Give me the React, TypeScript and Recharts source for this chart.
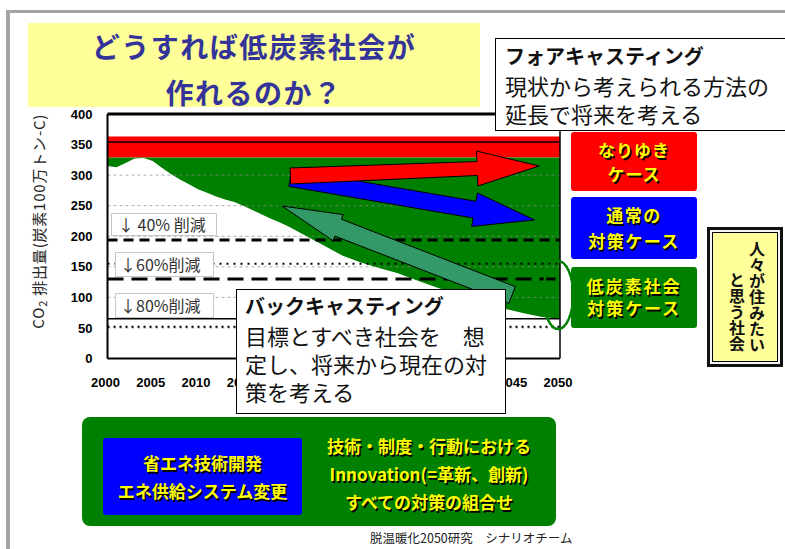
import React from 'react';
import { ComposedChart, Area, Line, XAxis, YAxis, ReferenceLine, ReferenceDot } from 'recharts';

// ---- data ----
const years = [2000, 2001, 2002, 2003, 2004, 2005, 2006, 2007, 2008, 2009, 2010, 2011, 2012, 2013, 2014, 2015, 2016, 2017, 2018, 2019, 2020, 2022, 2024, 2026, 2028, 2030, 2032, 2034, 2036, 2038, 2040, 2042, 2044, 2046, 2048, 2050];
const lowCarbonPath = [315, 313, 320, 327, 328, 323, 312, 302, 293, 285, 277, 271, 265, 260, 256, 250, 243, 236, 229, 223, 216, 200, 184, 168, 157, 148, 140, 129, 118, 108, 98, 89, 81, 74, 68, 65];
const greenTop = 329;
const bauBand = [329, 363];
const bauLevel = 354;
const reduction40 = 194;
const reduction60 = 155;
const reduction60b = 130;
const reduction80 = 65;
const reduction80b = 52;
const gridLevels = [50, 100, 150, 200, 250, 300];
const xTicks = [2000, 2005, 2010, 2015, 2020, 2025, 2030, 2035, 2040, 2045, 2050];
const yTicks = [0, 50, 100, 150, 200, 250, 300, 350, 400];
// arrows: [fromYear, fromValue, toYear, toValue]
const bauArrow = [2020.2, 298.6, 2047.7, 314.9];
const policyArrow = [2020.2, 295.3, 2047.2, 226.6];
const backcastArrow = [2044.7, 103.9, 2019.3, 249.5];
const targetMark = [2049.8, 104];

const table = years.map((y, i) => ({
  year: y,
  green: [lowCarbonPath[i], greenTop],
  red: [bauBand[0], bauBand[1]],
  bau: bauLevel,
}));

const JP = '"Noto Sans CJK JP", "Noto Sans", sans-serif';

function arrowShape(fill: string, tailW: number, shaftW: number, headW: number, headLen: number) {
  return (p: any) => {
    const { x1, y1, x2, y2 } = p;
    if ([x1, y1, x2, y2].some((v) => typeof v !== 'number' || isNaN(v))) return <g />;
    const dx = x2 - x1, dy = y2 - y1;
    const L = Math.hypot(dx, dy) || 1;
    const ux = dx / L, uy = dy / L;
    const nx = -uy, ny = ux;
    const bx = x2 - ux * headLen, by = y2 - uy * headLen;
    const pts = [
      [x1 + nx * tailW, y1 + ny * tailW],
      [bx + nx * shaftW, by + ny * shaftW],
      [bx + nx * headW, by + ny * headW],
      [x2, y2],
      [bx - nx * headW, by - ny * headW],
      [bx - nx * shaftW, by - ny * shaftW],
      [x1 - nx * tailW, y1 - ny * tailW],
    ];
    return <polygon points={pts.map((q) => q.join(',')).join(' ')} fill={fill} stroke="#000" strokeWidth={1} />;
  };
}

const yLabel = (props: any) => {
  const vb = props.viewBox || { x: 47.5, y: 114, width: 60, height: 244 };
  const cx = vb.x - 10;
  const cy = vb.y + vb.height / 2 - 15;
  return (
    <text x={cx} y={cy} transform={`rotate(-90, ${cx}, ${cy})`} textAnchor="middle" dominantBaseline="central" fontSize={15} letterSpacing={0.8} fill="#222" fontFamily={JP}>
      CO<tspan dy={4} fontSize={11}>2</tspan><tspan dy={-4}> 排出量(炭素100万トン-C)</tspan>
    </text>
  );
};

const shadow = '1.5px 1.5px 0 #000';

const abs = (l: number, t: number, w: number, h: number, extra: React.CSSProperties = {}): React.CSSProperties => ({
  position: 'absolute', left: l, top: t, width: w, height: h, boxSizing: 'border-box', ...extra,
});

export default function App() {
  return (
    <div style={{ position: 'absolute', left: 0, top: 0, width: 785, height: 549, overflow: 'hidden', background: '#fff', fontFamily: JP }}>
      {/* slide frame */}
      <div style={abs(6, 10, 800, 560, { borderLeft: '4px solid #a4a4a4', borderTop: '3px solid #a4a4a4' })} />

      <div style={{ position: 'absolute', left: 0, top: 0 }}>
        <ComposedChart width={785} height={549} data={table} margin={{ top: 114, right: 225, bottom: 160.5, left: 47.5 }}>
          <XAxis dataKey="year" type="number" domain={[2000, 2050]} ticks={xTicks} allowDataOverflow height={30}
            tickLine={false} tickSize={8} tickMargin={11} axisLine={{ stroke: '#000', strokeWidth: 2 }}
            tick={{ fill: '#000', fontSize: 13, fontWeight: 'bold', fontFamily: '"Liberation Sans", Arial, sans-serif', dx: -2 }} />
          <YAxis type="number" domain={[0, 400]} ticks={yTicks} width={60} tickLine={false} tickSize={8} tickMargin={7}
            axisLine={{ stroke: '#000', strokeWidth: 2 }}
            tick={{ fill: '#000', fontSize: 13, fontWeight: 'bold', fontFamily: '"Liberation Sans", Arial, sans-serif' }}
            label={{ content: yLabel }} />
          <Area dataKey="red" type="linear" fill="#ff0000" fillOpacity={1} stroke="none" isAnimationActive={false} />
          <Area dataKey="green" type="linear" fill="#008000" fillOpacity={1} stroke="none" isAnimationActive={false} />
          <Line dataKey="bau" type="linear" stroke="#000" strokeWidth={1.5} dot={false} isAnimationActive={false} />
          {gridLevels.map((g) => (
            <ReferenceLine key={g} y={g} stroke="#888" strokeWidth={0.7} strokeDasharray="3 3" />
          ))}
          <ReferenceLine y={reduction40} stroke="#000" strokeWidth={3} strokeDasharray="10 6" />
          <ReferenceLine y={reduction60} stroke="#000" strokeWidth={2} strokeDasharray="2 5" />
          <ReferenceLine y={reduction60b} stroke="#000" strokeWidth={3} strokeDasharray="16 8" />
          <ReferenceLine y={reduction80} stroke="#000" strokeWidth={1.5} />
          <ReferenceLine y={reduction80b} stroke="#000" strokeWidth={2} strokeDasharray="2 4" />
          <ReferenceLine y={400} stroke="#000" strokeWidth={3} />
          <ReferenceLine x={2050} stroke="#000" strokeWidth={1.5} />
          <ReferenceLine ifOverflow="visible" segment={[{ x: policyArrow[0], y: policyArrow[1] }, { x: policyArrow[2], y: policyArrow[3] }]}
            shape={arrowShape('#0000ff', 8.5, 8.5, 17, 61)} />
          <ReferenceLine ifOverflow="visible" segment={[{ x: bauArrow[0], y: bauArrow[1] }, { x: bauArrow[2], y: bauArrow[3] }]}
            shape={arrowShape('#ff0000', 8, 7, 17.5, 62)} />
          <ReferenceLine ifOverflow="visible" segment={[{ x: backcastArrow[0], y: backcastArrow[1] }, { x: backcastArrow[2], y: backcastArrow[3] }]}
            shape={arrowShape('#339966', 9, 9, 14, 60)} />
          <ReferenceDot x={targetMark[0]} y={targetMark[1]} ifOverflow="visible"
            shape={(p: any) => <ellipse cx={p.cx} cy={p.cy} rx={15} ry={34} fill="none" stroke="#008000" strokeWidth={2.5} />} />
        </ComposedChart>
      </div>

      {/* reduction labels */}
      <div style={abs(111, 213, 106, 23, { background: '#fff', border: '1px solid #c8c8c8', fontSize: 16, color: '#333', lineHeight: '21px', paddingLeft: 6 })}>↓ 40% 削減</div>
      <div style={abs(115, 252, 99, 25, { background: '#fff', border: '1px solid #c8c8c8', fontSize: 16, color: '#333', lineHeight: '23px', paddingLeft: 4 })}>↓60%削減</div>
      <div style={abs(115, 293, 99, 25, { background: '#fff', border: '1px solid #c8c8c8', fontSize: 16, color: '#333', lineHeight: '23px', paddingLeft: 4 })}>↓80%削減</div>

      {/* title */}
      <div style={abs(28, 23, 452, 84, { background: '#ffff99', color: '#333399', fontWeight: 'bold', fontSize: 28, lineHeight: '46px', textAlign: 'center', letterSpacing: 1.5 })}>
        どうすれば低炭素社会が<br />作れるのか？
      </div>

      {/* forecasting box */}
      <div style={abs(495, 38, 300, 93, { background: '#fff', border: '1.5px solid #000', paddingLeft: 9, color: '#111' })}>
        <div style={{ fontWeight: 'bold', fontSize: 20, lineHeight: '30px', marginTop: 2 }}>フォアキャスティング</div>
        <div style={{ fontSize: 22, lineHeight: '28px' }}>現状から考えられる方法の</div>
        <div style={{ fontSize: 22, lineHeight: '28px' }}>延長で将来を考える</div>
      </div>

      {/* legend boxes */}
      <div style={abs(571, 132, 126, 59, { background: '#ff0000', borderRadius: 3, color: '#ffff00', textShadow: shadow, fontWeight: 'bold', fontSize: 17, textAlign: 'center', lineHeight: '24px', paddingTop: 6, letterSpacing: 1 })}>
        なりゆき<br />ケース
      </div>
      <div style={abs(571, 197, 126, 62, { background: '#0000ff', borderRadius: 3, color: '#ffff00', textShadow: shadow, fontWeight: 'bold', fontSize: 17, textAlign: 'center', lineHeight: '26px', paddingTop: 5, letterSpacing: 1.5 })}>
        通常の<br />対策ケース
      </div>
      <div style={abs(571, 267, 126, 61, { background: '#008000', borderRadius: 3, color: '#ffff00', textShadow: shadow, fontWeight: 'bold', fontSize: 17, textAlign: 'center', lineHeight: '22px', paddingTop: 8, letterSpacing: 2 })}>
        低炭素社会<br />対策ケース
      </div>

      {/* vertical box */}
      <div style={abs(707, 227, 76, 140, { border: '3px solid #111', background: '#f4f4f4', padding: 2 })}>
        <div style={{ width: '100%', height: '100%', boxSizing: 'border-box', border: '1.5px solid #000', background: '#ffff99' }} />
      </div>
      <div style={{ position: 'absolute', left: 748, top: 241, writingMode: 'vertical-rl', fontSize: 16, fontWeight: 'bold', color: '#111', lineHeight: '18px' }}>人々が住みたい</div>
      <div style={{ position: 'absolute', left: 728, top: 272, writingMode: 'vertical-rl', fontSize: 16, fontWeight: 'bold', color: '#111', lineHeight: '18px' }}>と思う社会</div>

      {/* backcasting box */}
      <div style={abs(236, 289, 270, 125, { background: '#fff', border: '1.5px solid #000', paddingLeft: 8, color: '#111' })}>
        <div style={{ fontWeight: 'bold', fontSize: 20, lineHeight: '30px', marginTop: 1 }}>バックキャスティング</div>
        <div style={{ fontSize: 22, lineHeight: '28px' }}>目標とすべき社会を　想</div>
        <div style={{ fontSize: 22, lineHeight: '28px' }}>定し、将来から現在の対</div>
        <div style={{ fontSize: 22, lineHeight: '28px' }}>策を考える</div>
      </div>

      {/* bottom banner */}
      <div style={abs(82, 417, 474, 109, { background: '#008000', borderRadius: 8 })} />
      <div style={abs(103, 438, 199, 77, { background: '#0000ff', borderRadius: 3, color: '#ffff00', textShadow: shadow, fontWeight: 'bold', fontSize: 17, textAlign: 'center', lineHeight: '28px', paddingTop: 11 })}>
        省エネ技術開発<br />エネ供給システム変更
      </div>
      <div style={abs(312, 432, 234, 90, { color: '#ffff00', textShadow: shadow, fontWeight: 'bold', fontSize: 17, textAlign: 'center', lineHeight: '28px' })}>
        技術・制度・行動における<br />Innovation(=革新、創新)<br />すべての対策の組合せ
      </div>

      {/* footer */}
      <div style={{ position: 'absolute', left: 370, top: 529, fontSize: 12.5, color: '#222', lineHeight: '18px', whiteSpace: 'nowrap' }}>脱温暖化2050研究　シナリオチーム</div>
    </div>
  );
}
